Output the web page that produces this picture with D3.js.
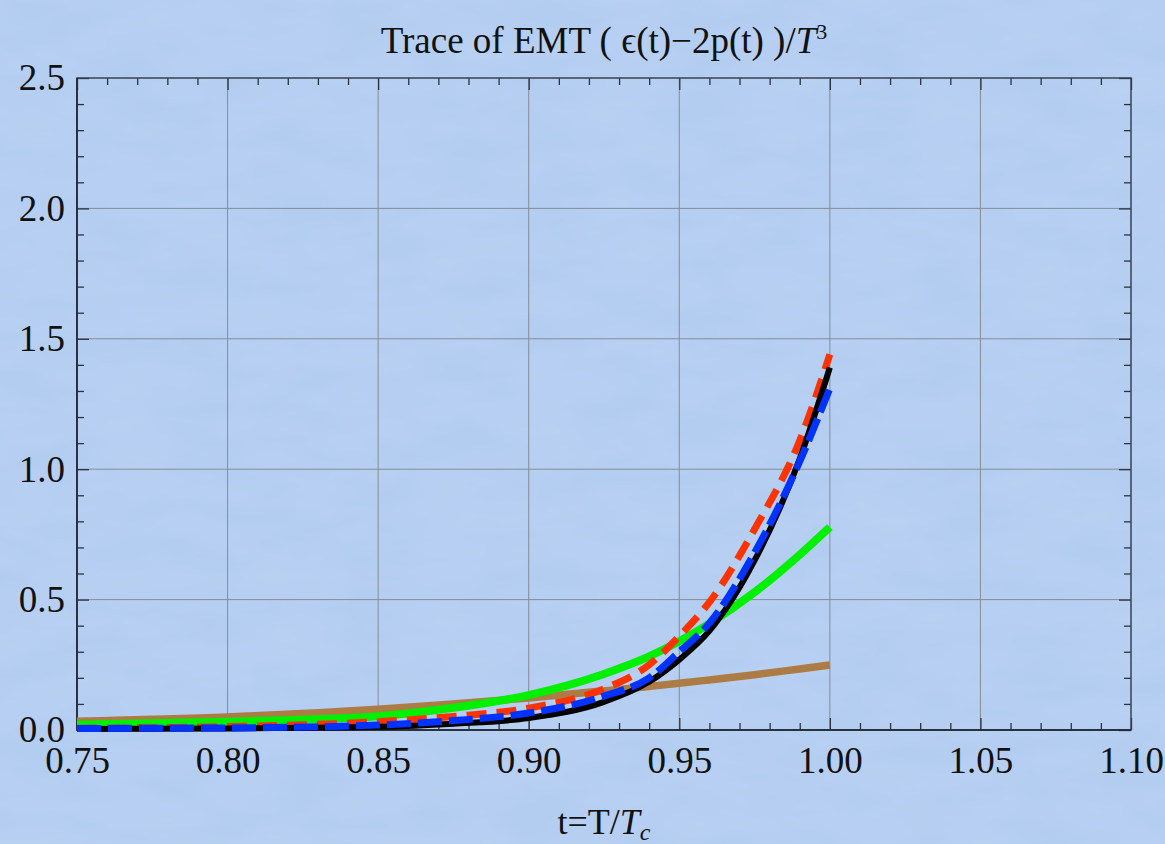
<!DOCTYPE html>
<html>
<head>
<meta charset="utf-8">
<script src="https://cdn.jsdelivr.net/npm/d3@7"></script>
<style>
  html, body { margin: 0; padding: 0; background: #b3cdf1; }
  svg { display: block; }
  text { font-family: "Liberation Serif", "Times New Roman", serif; fill: #111; }
</style>
</head>
<body>
<svg width="1165" height="844"></svg>
<script>
const width = 1165;
const height = 844;
const margin = { left: 77, right: 34, top: 78, bottom: 114 };

// sample points t = T/Tc
const tValues = [0.75, 0.80, 0.85, 0.875, 0.90, 0.925, 0.94, 0.95, 0.96, 0.975, 0.99, 1.0];
// trace of EMT
const brownValues = [0.034, 0.050, 0.080, 0.100, 0.123, 0.150, 0.167, 0.179, 0.192, 0.212, 0.234, 0.249];
const greenValues = [0.020, 0.032, 0.053, 0.085, 0.134, 0.215, 0.282, 0.340, 0.408, 0.528, 0.672, 0.778];
const redValues = [0.007, 0.013, 0.032, 0.052, 0.084, 0.158, 0.250, 0.360, 0.490, 0.770, 1.110, 1.440];
const blackValues = [0.004, 0.006, 0.012, 0.024, 0.046, 0.108, 0.185, 0.270, 0.380, 0.650, 1.040, 1.390];
const blueValues = [0.006, 0.008, 0.019, 0.036, 0.065, 0.130, 0.200, 0.300, 0.410, 0.680, 1.030, 1.310];

const xTicks = [0.75, 0.80, 0.85, 0.90, 0.95, 1.00, 1.05, 1.10];
const yTicks = [0.0, 0.5, 1.0, 1.5, 2.0, 2.5];
const xMinor = d3.range(75, 111).map((d) => d / 100).filter((d) => Math.round(d * 100) % 5 !== 0);
const yMinor = d3.range(0, 26).map((d) => d / 10).filter((d) => Math.round(d * 10) % 5 !== 0);

const series = [
    { name: "brown", values: brownValues, color: "#ad7b44", width: 7.5, dash: null },
    { name: "green", values: greenValues, color: "#00f000", width: 8, dash: null },
    { name: "red", values: redValues, color: "#ff3300", width: 7, dash: "20,10" },
    { name: "black", values: blackValues, color: "#000000", width: 6, dash: null },
    { name: "blue", values: blueValues, color: "#0033ff", width: 7, dash: "24,7" },
];

const svg = d3.select("svg");

// faint paper texture
const defs = svg.append("defs");
const paper = defs.append("filter").attr("id", "paper")
    .attr("x", 0).attr("y", 0).attr("width", "100%").attr("height", "100%");
paper.append("feTurbulence").attr("type", "fractalNoise")
    .attr("baseFrequency", "0.012 0.03").attr("numOctaves", 3).attr("seed", 4);
paper.append("feColorMatrix").attr("type", "matrix")
    .attr("values", "0 0 0 0 1  0 0 0 0 1  0 0 0 0 1  0 0 0 0.12 -0.03");
svg.append("rect").attr("width", width).attr("height", height)
    .attr("fill", "#b3cdf1");
svg.append("rect").attr("width", width).attr("height", height)
    .attr("filter", "url(#paper)");

const x = d3.scaleLinear().domain([0.75, 1.10]).range([margin.left, width - margin.right]);
const y = d3.scaleLinear().domain([0, 2.5]).range([height - margin.bottom, margin.top]);

const x0 = x.range()[0], x1 = x.range()[1];
const y0 = y.range()[0], y1 = y.range()[1];

// grid
const grid = svg.append("g").attr("stroke", "#878c96").attr("stroke-width", 1);
grid.selectAll(".vg")
    .data(xTicks.slice(1, -1))
    .join("line")
    .attr("x1", (d) => x(d)).attr("x2", (d) => x(d))
    .attr("y1", y1).attr("y2", y0);
grid.selectAll(".hg")
    .data(yTicks.slice(1, -1))
    .join("line")
    .attr("x1", x0).attr("x2", x1)
    .attr("y1", (d) => y(d)).attr("y2", (d) => y(d));

// frame ticks (inside, on all four sides)
const tickStyle = (g) =>
    g.call((g) => g.select(".domain").remove())
        .call((g) => g.selectAll(".tick line").attr("stroke", "#2b3340").attr("stroke-width", 1.3));

svg.append("g").attr("transform", `translate(0,${y0})`)
    .call(d3.axisBottom(x).tickValues(xMinor).tickSize(-7).tickFormat(""))
    .call(tickStyle);
svg.append("g").attr("transform", `translate(0,${y1})`)
    .call(d3.axisTop(x).tickValues(xMinor).tickSize(-7).tickFormat(""))
    .call(tickStyle);
svg.append("g").attr("transform", `translate(0,${y1})`)
    .call(d3.axisTop(x).tickValues(xTicks).tickSize(-12).tickFormat(""))
    .call(tickStyle);
svg.append("g").attr("transform", `translate(${x0},0)`)
    .call(d3.axisLeft(y).tickValues(yMinor).tickSize(-7).tickFormat(""))
    .call(tickStyle);
svg.append("g").attr("transform", `translate(${x1},0)`)
    .call(d3.axisRight(y).tickValues(yMinor).tickSize(-7).tickFormat(""))
    .call(tickStyle);
svg.append("g").attr("transform", `translate(${x1},0)`)
    .call(d3.axisRight(y).tickValues(yTicks).tickSize(-12).tickFormat(""))
    .call(tickStyle);

// labelled axes
svg.append("g").attr("transform", `translate(0,${y0})`)
    .call(d3.axisBottom(x).tickValues(xTicks).tickSize(-12).tickPadding(17)
        .tickFormat((d) => d.toFixed(2)))
    .call(tickStyle);
svg.append("g").attr("transform", `translate(${x0},0)`)
    .call(d3.axisLeft(y).tickValues(yTicks).tickSize(-12).tickPadding(12)
        .tickFormat((d) => d.toFixed(1)))
    .call(tickStyle);
svg.selectAll(".tick text")
    .attr("font-family", "'Liberation Serif', 'Times New Roman', serif")
    .attr("font-size", 37)
    .attr("fill", "#111");

// frame
svg.append("rect")
    .attr("x", x0).attr("y", y1)
    .attr("width", x1 - x0).attr("height", y0 - y1)
    .attr("fill", "none")
    .attr("stroke", "#3a4250")
    .attr("stroke-width", 1.5);
svg.append("path")
    .attr("d", `M${x0},${y1}V${y0}H${x1}`)
    .attr("fill", "none")
    .attr("stroke", "#1c222c")
    .attr("stroke-width", 1.5);

// curves
const line = d3.line()
    .x((d) => x(d[0]))
    .y((d) => y(d[1]))
    .curve(d3.curveMonotoneX);

svg.append("g")
    .selectAll("path")
    .data(series)
    .join("path")
    .attr("d", (s) => line(tValues.map((t, i) => [t, s.values[i]])))
    .attr("fill", "none")
    .attr("stroke", (s) => s.color)
    .attr("stroke-width", (s) => s.width)
    .attr("stroke-dasharray", (s) => s.dash);

// title
const title = svg.append("text")
    .attr("x", (x0 + x1) / 2)
    .attr("y", 53)
    .attr("text-anchor", "middle")
    .attr("font-size", 37);
title.append("tspan").text("Trace of EMT ( \u03F5(t)\u22122p(t) )/");
title.append("tspan").attr("font-style", "italic").text("T");
title.append("tspan").attr("font-size", 22).attr("dy", -14).text("3");

// x label
const xLabel = svg.append("text")
    .attr("x", (x0 + x1) / 2)
    .attr("y", 834)
    .attr("text-anchor", "middle")
    .attr("font-size", 36);
xLabel.append("tspan").text("t=T/");
xLabel.append("tspan").attr("font-style", "italic").text("T");
xLabel.append("tspan").attr("font-style", "italic").attr("font-size", 24).attr("dy", 6).text("c");
</script>
</body>
</html>
